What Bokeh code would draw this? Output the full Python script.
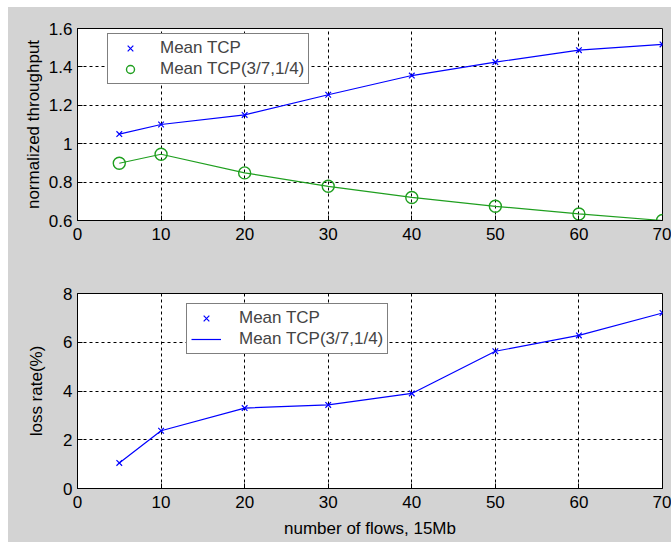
from bokeh.plotting import figure
from bokeh.layouts import column
from bokeh.models import Legend, LegendItem, FixedTicker, Range1d
from bokeh.embed import file_html
from bokeh.resources import INLINE

# ---- data ----
flows = [5, 10, 20, 30, 40, 50, 60, 70]
thr_mean_tcp = [1.05, 1.10, 1.15, 1.255, 1.355, 1.425, 1.487, 1.517]
thr_mean_tcp_37 = [0.898, 0.945, 0.848, 0.778, 0.72, 0.674, 0.634, 0.60]
loss_mean_tcp = [1.05, 2.37, 3.3, 3.43, 3.9, 5.63, 6.28, 7.2]

x_ticks = [0, 10, 20, 30, 40, 50, 60, 70]
top_y_ticks = [0.6, 0.8, 1.0, 1.2, 1.4, 1.6]
top_y_labels = ["0.6", "0.8", "1", "1.2", "1.4", "1.6"]
bot_y_ticks = [0, 2, 4, 6, 8]
bot_y_labels = ["0", "2", "4", "6", "8"]

label_top_a = "Mean TCP"
label_top_b = "Mean TCP(3/7,1/4)"
top_ylabel = "normalized throughput"
bot_ylabel = "loss rate(%)"
xlabel = "number of flows, 15Mb"

# ---- style ----
BG = "#d3d3d3"
BLUE = "#0000ff"
GREEN = "#1f9f1f"
FONT = "Liberation Sans"
FS = "17px"


def style(p, yticks, ylabels, ylabel_standoff):
    p.background_fill_color = "white"
    p.border_fill_color = BG
    p.outline_line_color = "black"
    p.outline_line_width = 1
    xt = FixedTicker(ticks=x_ticks)
    yt = FixedTicker(ticks=yticks)
    p.xaxis.ticker = xt
    p.yaxis.ticker = yt
    p.xgrid.ticker = xt
    p.ygrid.ticker = yt
    p.yaxis.major_label_overrides = {t: l for t, l in zip(yticks, ylabels)}
    p.xaxis.major_label_overrides = {t: str(t) for t in x_ticks}
    for ax in (p.xaxis, p.yaxis):
        ax.axis_line_color = "black"
        ax.major_tick_line_color = "black"
        ax.major_tick_in = 5
        ax.major_tick_out = 0
        ax.minor_tick_line_color = None
        ax.major_label_text_font = FONT
        ax.major_label_text_font_size = FS
        ax.major_label_text_color = "black"
        ax.axis_label_text_font = FONT
        ax.axis_label_text_font_size = FS
        ax.axis_label_text_font_style = "normal"
        ax.axis_label_text_color = "black"
    p.xaxis.major_label_standoff = 7
    p.yaxis.major_label_standoff = 5
    p.yaxis.axis_label_standoff = ylabel_standoff
    for g in (p.xgrid, p.ygrid):
        g.grid_line_color = "black"
        g.grid_line_dash = "3 3"
        g.grid_line_width = 1


# ---- top figure ----
p1 = figure(width=663, height=249, output_backend="svg", toolbar_location=None,
            x_range=Range1d(0, 70), y_range=Range1d(0.6, 1.6),
            min_border_left=69, min_border_right=9, min_border_top=21, min_border_bottom=36)
style(p1, top_y_ticks, top_y_labels, 3)
p1.yaxis.axis_label = top_ylabel

p1.line(flows, thr_mean_tcp, line_color=BLUE, line_width=1.2)
r_a = p1.scatter(flows, thr_mean_tcp, marker="x", size=8, line_color=BLUE, line_width=1.2)
p1.line(flows, thr_mean_tcp_37, line_color=GREEN, line_width=1.2)
r_b = p1.scatter(flows, thr_mean_tcp_37, marker="circle", size=12, fill_color=None,
                 line_color=GREEN, line_width=1.4)

leg1 = Legend(items=[LegendItem(label=label_top_a, renderers=[r_a]),
                     LegendItem(label=label_top_b, renderers=[r_b])],
              location=(30, 136), margin=0, padding=4, spacing=1,
              glyph_width=36, glyph_height=20, label_height=20, label_standoff=12,
              label_text_font=FONT, label_text_font_size=FS,
              border_line_color="black", border_line_width=1,
              background_fill_color="white", background_fill_alpha=1)
p1.add_layout(leg1, "center")

# ---- bottom figure ----
p2 = figure(width=663, height=286, output_backend="svg", toolbar_location=None,
            x_range=Range1d(0, 70), y_range=Range1d(0, 8),
            min_border_left=69, min_border_right=9, min_border_top=37, min_border_bottom=54)
style(p2, bot_y_ticks, bot_y_labels, 14)
p2.yaxis.axis_label = bot_ylabel
p2.xaxis.axis_label = xlabel
p2.xaxis.axis_label_standoff = 8

r_c = p2.scatter(flows, loss_mean_tcp, marker="x", size=8, line_color=BLUE, line_width=1.2)
r_d = p2.line(flows, loss_mean_tcp, line_color=BLUE, line_width=1.2)

leg2 = Legend(items=[LegendItem(label=label_top_a, renderers=[r_c]),
                     LegendItem(label=label_top_b, renderers=[r_d])],
              location=(109, 134), margin=0, padding=4, spacing=1,
              glyph_width=30, glyph_height=20, label_height=20, label_standoff=18,
              label_text_font=FONT, label_text_font_size=FS,
              border_line_color="black", border_line_width=1,
              background_fill_color="white", background_fill_alpha=1)
p2.add_layout(leg2, "center")

layout = column(p1, p2, spacing=0, margin=(7, 0, 0, 8),
                styles={"background-color": BG})

open("out.html", "w").write(file_html(layout, INLINE))
